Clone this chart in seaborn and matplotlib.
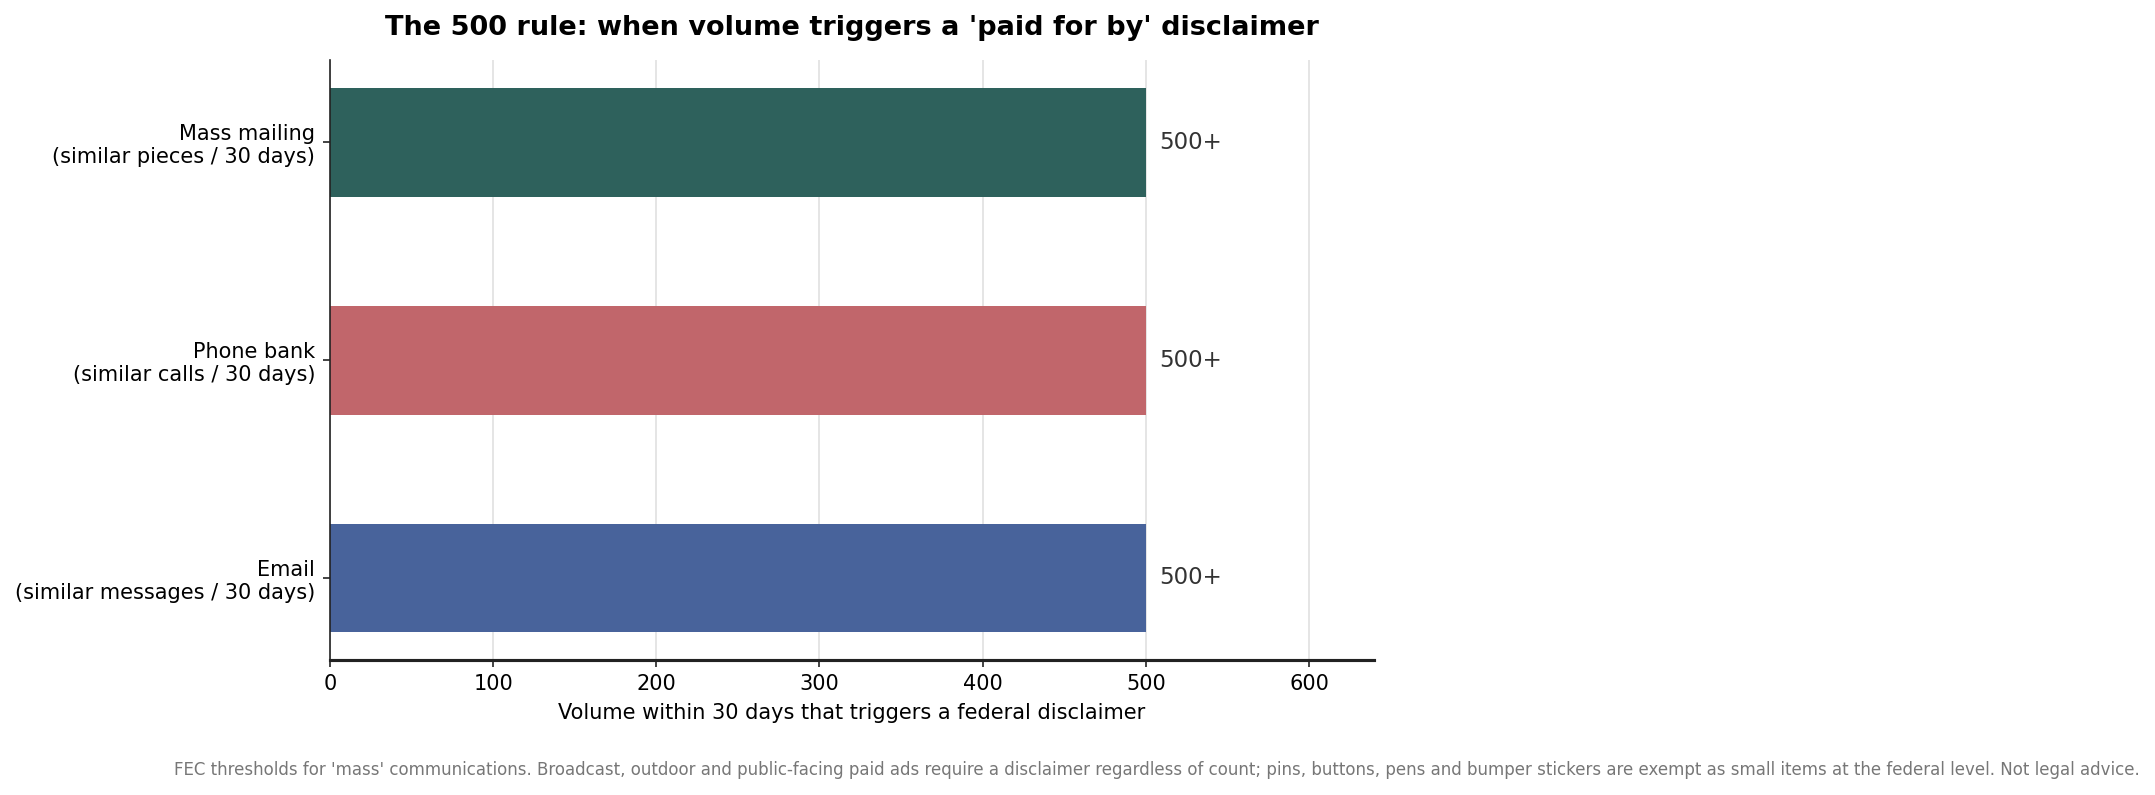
import matplotlib
matplotlib.use("Agg")
import matplotlib.pyplot as plt
import seaborn as sns
import pandas as pd

categories = ["Mass mailing\n(similar pieces / 30 days)",
              "Phone bank\n(similar calls / 30 days)",
              "Email\n(similar messages / 30 days)"]
values = [500, 500, 500]
value_labels = ["500+", "500+", "500+"]
colors = ["#2e615c", "#c1666b", "#48639b"]

df = pd.DataFrame({"category": categories, "volume": values})

sns.set_style("white", rc={"text.color": "black", "axes.labelcolor": "black",
                           "xtick.color": "black", "ytick.color": "black"})
plt.rcParams['font.family'] = ['DejaVu Sans']

fig = plt.figure(figsize=(2155 / 150, 795 / 150), dpi=150)
ax = fig.add_axes([0.1531, 0.1702, 0.6377 - 0.1531, 0.9239 - 0.1702])

sns.barplot(data=df, y="category", x="volume", hue="category",
            palette=colors, orient="h", width=0.5, legend=False, ax=ax,
            zorder=3, saturation=1, linewidth=0)

ax.set_xlim(0, 640)
ax.set_ylim(2.375, -0.375)
ax.set_xticks([0, 100, 200, 300, 400, 500, 600])
ax.xaxis.grid(True, color="#e0e0e0", linewidth=0.8, zorder=0)
ax.yaxis.grid(False)
ax.set_axisbelow(True)

for i, (v, lab) in enumerate(zip(values, value_labels)):
    ax.text(v + 8, i, lab, va="center", ha="left", fontsize=11, color="#333333")

ax.set_ylabel("")
ax.set_xlabel("Volume within 30 days that triggers a federal disclaimer", fontsize=10)
ax.tick_params(axis="both", labelsize=10, length=3.5, width=0.8, color="#222222",
               left=True, bottom=True)
ax.set_title("The 500 rule: when volume triggers a 'paid for by' disclaimer",
             fontsize=13, fontweight="bold", pad=12)

sns.despine(ax=ax)
ax.spines["left"].set_linewidth(0.8)
ax.spines["left"].set_color("#222222")
ax.spines["left"].set_zorder(5)
ax.spines["bottom"].set_linewidth(1.5)
ax.spines["bottom"].set_color("#222222")

fig.text(0.5370, 0.031,
         "FEC thresholds for 'mass' communications. Broadcast, outdoor and public-facing paid ads require a "
         "disclaimer regardless of count; pins, buttons, pens and bumper stickers are exempt as small items "
         "at the federal level. Not legal advice.",
         ha="center", va="center", fontsize=8, color="#777777")

fig.savefig("out.png", dpi=150)
